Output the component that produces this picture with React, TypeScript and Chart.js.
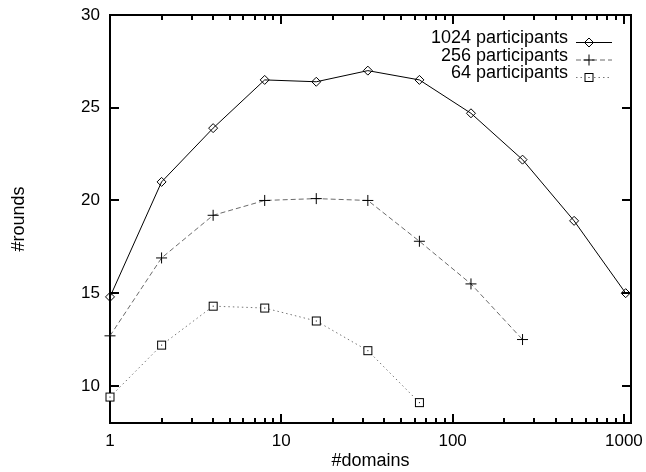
import React, { useEffect, useRef } from 'react';
import { Chart, registerables } from 'chart.js';
import { drawPoint } from 'chart.js/helpers';

Chart.register(...registerables);

// ---- data ----
const DOMAINS = [1, 2, 4, 8, 16, 32, 64, 128, 256, 512, 1024];
const ROUNDS_1024 = [14.8, 21.0, 23.9, 26.5, 26.4, 27.0, 26.5, 24.7, 22.2, 18.9, 15.0];
const ROUNDS_256 = [12.7, 16.9, 19.2, 20.0, 20.1, 20.0, 17.8, 15.5, 12.5];
const ROUNDS_64 = [9.4, 12.2, 14.3, 14.2, 13.5, 11.9, 9.1];
const SERIES_LABELS = ['1024 participants', '256 participants', '64 participants'];
const X_TICKS = [1, 10, 100, 1000];
const X_MINOR_MULT = [2, 3, 4, 5, 6, 7, 8, 9];
const Y_TICKS = [10, 15, 20, 25, 30];
const X_MIN = 1;
const X_MAX = 1100;
const Y_MIN = 8;
const Y_MAX = 30;

const FONT = '"Liberation Sans", Arial, Helvetica, sans-serif';

const toPoints = (vals: number[]) => vals.map((v, i) => ({ x: DOMAINS[i], y: v }));

const framePlugin = {
  id: 'gpFrame',
  beforeDatasetsDraw(chart: any) {
    const { ctx, chartArea: a, scales } = chart;
    const xs = scales.x;
    const ys = scales.y;
    ctx.save();
    ctx.strokeStyle = '#000';
    ctx.lineWidth = 2;
    ctx.strokeRect(a.left, a.top, a.right - a.left, a.bottom - a.top);
    ctx.beginPath();
    for (const v of Y_TICKS) {
      const y = Math.round(ys.getPixelForValue(v));
      if (y <= a.top + 1 || y >= a.bottom - 1) continue;
      ctx.moveTo(a.left, y);
      ctx.lineTo(a.left + 9, y);
      ctx.moveTo(a.right, y);
      ctx.lineTo(a.right - 9, y);
    }
    const drawX = (v: number, len: number) => {
      if (v < xs.min || v > xs.max) return;
      const x = Math.round(xs.getPixelForValue(v));
      if (x <= a.left + 1 || x >= a.right - 1) return;
      ctx.moveTo(x, a.bottom);
      ctx.lineTo(x, a.bottom - len);
      ctx.moveTo(x, a.top);
      ctx.lineTo(x, a.top + len);
    };
    for (const d of X_TICKS) {
      drawX(d, 9);
      for (const m of X_MINOR_MULT) drawX(m * d, 5);
    }
    ctx.stroke();
    ctx.restore();
  },
};

const legendPlugin = {
  id: 'gpLegend',
  afterDatasetsDraw(chart: any) {
    const { ctx, chartArea: a } = chart;
    ctx.save();
    ctx.font = `18px ${FONT}`;
    ctx.textAlign = 'right';
    ctx.textBaseline = 'middle';
    chart.data.datasets.forEach((ds: any, i: number) => {
      const y = a.top + 27.5 + i * 17.5;
      ctx.fillStyle = '#000';
      ctx.fillText(ds.label, a.right - 63, y - 4);
      ctx.save();
      ctx.strokeStyle = ds.borderColor;
      ctx.lineWidth = ds.borderWidth;
      ctx.setLineDash(ds.borderDash || []);
      ctx.beginPath();
      ctx.moveTo(a.right - 55, y);
      ctx.lineTo(a.right - 19, y);
      ctx.stroke();
      ctx.setLineDash([]);
      ctx.strokeStyle = ds.pointBorderColor;
      ctx.fillStyle = ds.pointBackgroundColor;
      ctx.lineWidth = ds.pointBorderWidth;
      drawPoint(
        ctx,
        { pointStyle: ds.pointStyle, radius: ds.pointRadius, borderWidth: ds.pointBorderWidth, rotation: 0 } as any,
        a.right - 42,
        y
      );
      ctx.restore();
    });
    ctx.restore();
  },
};

function makeSquareDot(): HTMLCanvasElement {
  const c = document.createElement('canvas');
  c.width = 13;
  c.height = 13;
  const g = c.getContext('2d')!;
  g.strokeStyle = '#000';
  g.lineWidth = 1;
  g.fillStyle = '#fff';
  g.fillRect(2, 2, 9, 9);
  g.strokeRect(2.5, 2.5, 8, 8);
  g.fillStyle = '#000';
  g.fillRect(6, 6, 1, 1);
  return c;
}

export default function App() {
  const ref = useRef<HTMLCanvasElement>(null);
  useEffect(() => {
    const canvas = ref.current!;
    Chart.defaults.font.family = FONT;
    const squareDot = makeSquareDot();
    const chart = new Chart(canvas, {
      type: 'line',
      data: {
        datasets: [
          {
            label: SERIES_LABELS[0],
            data: toPoints(ROUNDS_1024),
            borderColor: '#000',
            borderWidth: 1,
            pointStyle: 'rectRot',
            pointRadius: 4.5,
            pointBorderColor: '#000',
            pointBackgroundColor: 'rgba(255,255,255,0)',
            pointBorderWidth: 1,
            clip: false,
          },
          {
            label: SERIES_LABELS[1],
            data: toPoints(ROUNDS_256),
            borderColor: '#6a6a6a',
            borderWidth: 1,
            borderDash: [5, 3],
            pointStyle: 'cross',
            pointRadius: 5.5,
            pointBorderColor: '#000',
            pointBackgroundColor: '#000',
            pointBorderWidth: 1,
            clip: false,
          },
          {
            label: SERIES_LABELS[2],
            data: toPoints(ROUNDS_64),
            borderColor: '#777777',
            borderWidth: 1,
            borderDash: [1.5, 3],
            pointStyle: squareDot,
            pointRadius: 6,
            pointBorderColor: '#000',
            pointBackgroundColor: 'rgba(255,255,255,0)',
            pointBorderWidth: 1,
            clip: false,
          },
        ] as any,
      },
      options: {
        animation: false,
        responsive: false,
        maintainAspectRatio: false,
        layout: { padding: { left: 0, right: 15, top: 15, bottom: 0 } },
        plugins: { legend: { display: false }, tooltip: { enabled: false } },
        elements: { line: { tension: 0 } },
        scales: {
          x: {
            type: 'logarithmic',
            min: X_MIN,
            max: X_MAX,
            position: 'bottom',
            grid: { display: false, drawTicks: true, tickLength: 8 },
            border: { display: false },
            ticks: {
              color: '#000',
              font: { size: 17, family: FONT },
              padding: 0,
              maxRotation: 0,
              autoSkip: false,
              callback: (v: any) => String(v),
            },
            afterBuildTicks: (s: any) => {
              s.ticks = X_TICKS.map((v) => ({ value: v }));
            },
            afterFit: (s: any) => {
              s.height = 49;
            },
            title: {
              display: true,
              text: '#domains',
              color: '#000',
              font: { size: 18, family: FONT },
              padding: { top: 0, bottom: 0 },
            },
          },
          y: {
            type: 'linear',
            min: Y_MIN,
            max: Y_MAX,
            position: 'left',
            grid: { display: false, drawTicks: true, tickLength: 10 },
            border: { display: false },
            ticks: {
              color: '#000',
              font: { size: 17, family: FONT },
              padding: 0,
              autoSkip: false,
            },
            afterBuildTicks: (s: any) => {
              s.ticks = Y_TICKS.map((v) => ({ value: v }));
            },
            afterFit: (s: any) => {
              s.width = 110;
            },
            title: {
              display: true,
              text: '#rounds',
              color: '#000',
              font: { size: 18, family: FONT },
              padding: { top: 8, bottom: 0 },
            },
          },
        },
      } as any,
      plugins: [framePlugin, legendPlugin],
    });
    return () => chart.destroy();
  }, []);
  return (
    <div style={{ position: 'fixed', left: 0, top: 0, width: 646, height: 472, background: '#fff' }}>
      <canvas ref={ref} width={646} height={472} style={{ display: 'block' }} />
    </div>
  );
}
